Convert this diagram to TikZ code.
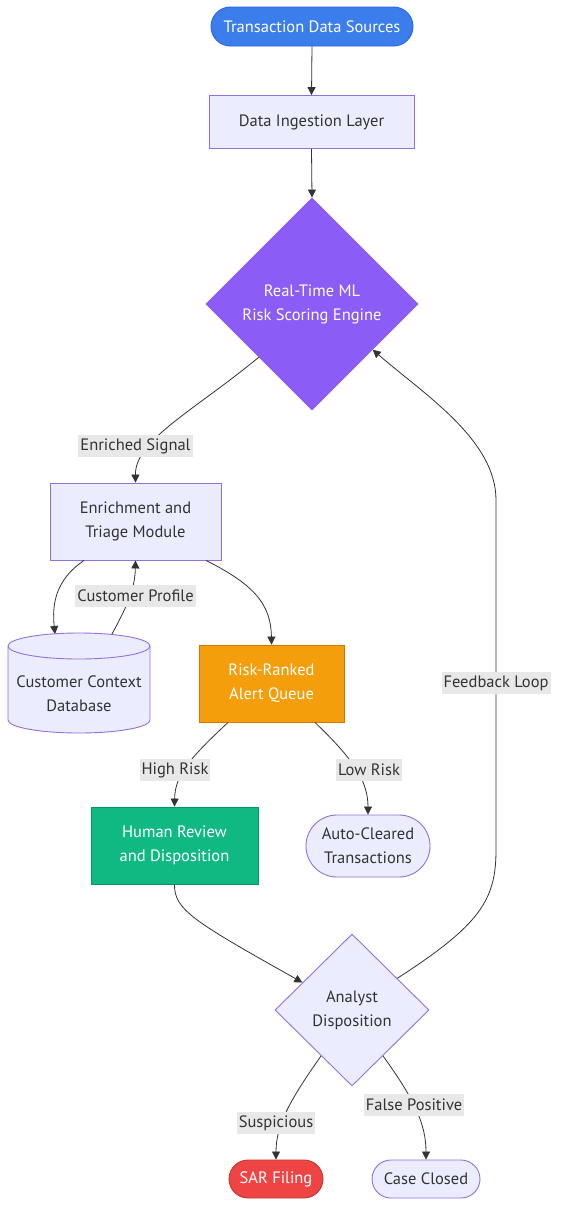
\documentclass[tikz,border=0pt]{standalone}
\usepackage{fontspec}
\setmainfont{PT Sans}
\usetikzlibrary{shapes.geometric,arrows.meta}
\definecolor{lav}{HTML}{ECECFF}
\definecolor{lavline}{HTML}{9370DB}
\definecolor{ink}{HTML}{333333}
\definecolor{lblbg}{HTML}{E8E8E8}
\definecolor{cblue}{HTML}{3B7DEB}
\definecolor{cblueline}{HTML}{2563EB}
\definecolor{cpurple}{HTML}{8B5CF6}
\definecolor{cpurpleline}{HTML}{8B5CF6}
\definecolor{corange}{HTML}{F59E0B}
\definecolor{corangeline}{HTML}{D97706}
\definecolor{cgreen}{HTML}{10B981}
\definecolor{cgreenline}{HTML}{059669}
\definecolor{cred}{HTML}{EF4444}
\definecolor{credline}{HTML}{C0392B}
\tikzset{
  every node/.style={font=\fontsize{16.5}{24}\selectfont, align=center},
  box/.style={draw=lavline, fill=lav, text=ink, line width=0.9pt, inner sep=0pt},
  colbox/.style={line width=0.9pt, inner sep=0pt, text=white},
  stadium/.style={rounded corners=#1, inner sep=0pt, line width=0.9pt},
  dmd/.style={diamond, inner sep=0pt, line width=0.9pt},
  lbl/.style={fill=lblbg, text=ink, inner sep=2pt, minimum height=22pt},
  conn/.style={draw=ink, line width=0.8pt, -{Triangle[length=8pt,width=8pt]}},
}
\begin{document}
\begin{tikzpicture}[x=1pt,y=-1pt]
\useasboundingbox (0,0) rectangle (565,1224);
\fill[white] (0,0) rectangle (565,1224);

% nodes
\node[stadium=19.5pt, draw=cblueline, fill=cblue, text=white, minimum width=202pt, minimum height=39pt] (tds) at (312,26.5) {Transaction Data Sources};
\node[box, minimum width=205pt, minimum height=53pt] (dil) at (311.5,122) {Data Ingestion Layer};
\node[dmd, draw=cpurpleline, fill=cpurple, text=white, minimum width=212pt, minimum height=212pt] (rtml) at (312,304) {Real-Time ML\\Risk Scoring Engine};
\node[box, minimum width=171pt, minimum height=77pt] (etm) at (135.5,521.5) {Enrichment and\\Triage Module};

% cylinder
\path[draw=lavline, fill=lav, line width=0.9pt]
  (8,646) -- (8,720) arc[start angle=180, end angle=360, x radius=71pt, y radius=13pt]
  -- (150,646) arc[start angle=0, end angle=180, x radius=71pt, y radius=13pt] -- cycle;
\draw[lavline, line width=0.9pt] (8,646) arc[start angle=180, end angle=360, x radius=71pt, y radius=13pt];
\node[text=ink] (ccd) at (79,694) {Customer Context\\Database};
\coordinate (ccdin) at (55,634);
\coordinate (ccdout) at (112,634);

\node[colbox, draw=corangeline, fill=corange, minimum width=145pt, minimum height=77pt] (rraq) at (271.5,683.5) {Risk-Ranked\\Alert Queue};
\node[colbox, draw=cgreenline, fill=cgreen, minimum width=167pt, minimum height=77pt] (hr) at (174.5,845.5) {Human Review\\and Disposition};
\node[stadium=31pt, draw=lavline, fill=lav, text=ink, minimum width=124pt, minimum height=62pt] (ac) at (368,846) {Auto-Cleared\\Transactions};
\node[dmd, draw=lavline, fill=lav, text=ink, minimum width=154pt, minimum height=152pt] (ad) at (352,1010) {Analyst\\Disposition};
\node[stadium=19pt, draw=credline, fill=cred, text=white, minimum width=94pt, minimum height=38pt] (sar) at (276,1179) {SAR Filing};
\node[stadium=19pt, draw=lavline, fill=lav, text=ink, minimum width=108pt, minimum height=38pt] (cc) at (426,1179) {Case Closed};

% connectors
\draw[conn] (tds.south) -- (dil.north);
\draw[conn] (dil.south) -- (rtml.north);
\draw[conn] (rtml.south west) .. controls (195,410) and (135,440) .. (etm.north);
\draw[conn] (etm.south -| 84,0) .. controls (55,580) and (52,605) .. (ccdin);
\draw[conn] (ccdout) .. controls (125,610) and (135,590) .. (etm.south);
\draw[conn] (etm.south -| 206,0) .. controls (255,585) and (271,605) .. (rraq.north);
\draw[conn] (rraq.south -| 228,0) .. controls (190,758) and (175,775) .. (hr.north);
\draw[conn] (rraq.south -| 315,0) .. controls (352,758) and (368,780) .. (ac.north);
\draw[conn] (hr.south) .. controls (174,910) and (195,922) .. (ad.151);
\draw[conn] (ad.35) .. controls (480,925) and (496,900) .. (496,850) -- (496,500) .. controls (496,440) and (425,395) .. (rtml.-37);
\draw[conn] (ad.-124) .. controls (290,1100) and (276,1125) .. (sar.north);
\draw[conn] (ad.-56) .. controls (415,1100) and (426,1125) .. (cc.north);

% labels
\node[lbl] (l1) at (135.5,446) {Enriched Signal};
\node[lbl] (l2) at (135.5,596) {Customer Profile};
\node[lbl] (l3) at (175,770) {High Risk};
\node[lbl] (l4) at (369,770) {Low Risk};
\node[lbl] (l5) at (496,683) {Feedback Loop};
\node[lbl] (l6) at (276,1123) {Suspicious};
\node[lbl] (l7) at (414,1105) {False Positive};
\end{tikzpicture}
\end{document}
